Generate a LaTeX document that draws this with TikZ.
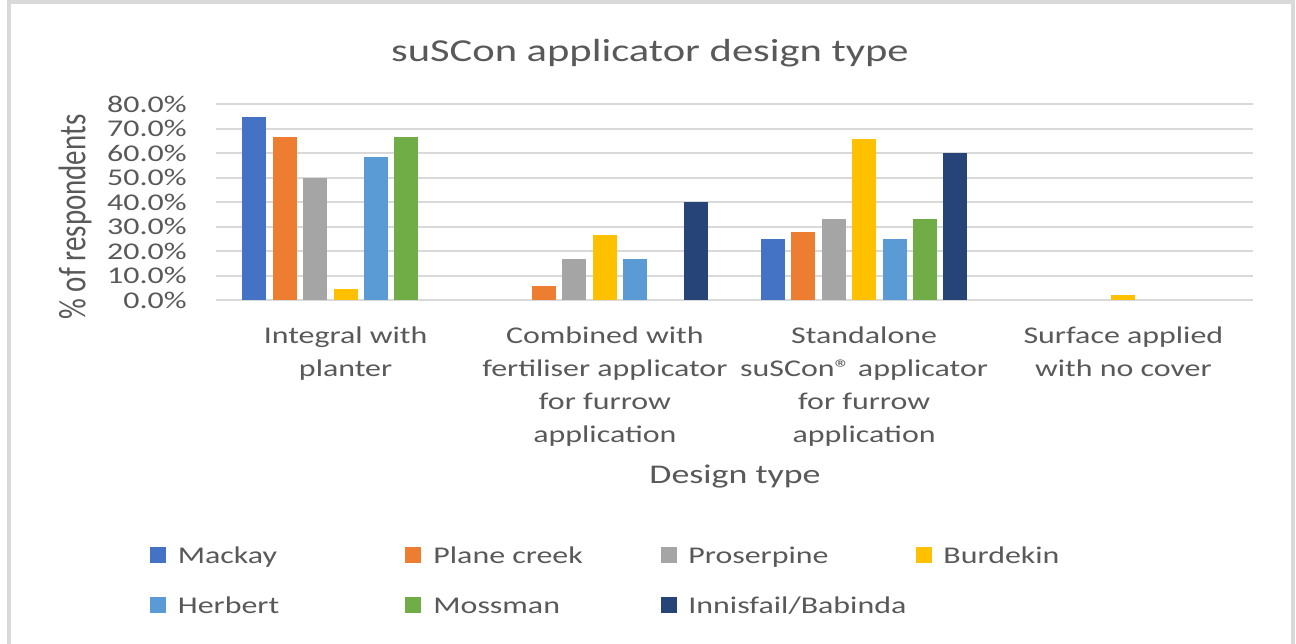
\documentclass[tikz,border=0pt]{standalone}
\usepackage{fontspec}
\setmainfont{Carlito}
\usepackage{graphicx}
\usepackage{xcolor}
\usepackage{tikz}
\usetikzlibrary{positioning}

\definecolor{txt}{HTML}{595959}
\definecolor{gridc}{HTML}{D9D9D9}
\definecolor{mackay}{HTML}{4472C4}
\definecolor{plane}{HTML}{ED7D31}
\definecolor{proser}{HTML}{A5A5A5}
\definecolor{burdek}{HTML}{FFC000}
\definecolor{herbert}{HTML}{5B9BD5}
\definecolor{mossman}{HTML}{70AD47}
\definecolor{innis}{HTML}{264478}

\newcommand{\sx}[1]{\scalebox{1.33}[1]{#1}}
\newcommand{\series}[3]{%
  \foreach \v [count=\i from 0] in {#3}{
    \ifdim\v pt>0pt
      \fill[#2] ({254.4+259.25*\i+30.4*#1-12},300) rectangle ++(24,{-2.4457*\v});
    \fi
  }}

\tikzset{lbl/.style={inner sep=0pt,text=txt,font=\fontsize{12}{16.5}\selectfont},
         gridln/.style={draw=gridc,line width=1pt},
         key/.style={inner sep=0pt,minimum width=8pt,minimum height=8pt}}

\begin{document}
\begin{tikzpicture}[x=0.5pt,y=-0.5pt]
        \useasboundingbox (0,0) rectangle (1296,643);
        \draw[gridc,line width=2pt] (9,650) -- (9,1.5) -- (1292.5,1.5) -- (1292.5,650);

        \node[lbl,font=\fontsize{16}{19}\selectfont,anchor=base] (title) at (650,61) {\sx{suSCon applicator design type}};

        % grid and ticks
        \foreach \k/\t in {0/0.0,1/10.0,2/20.0,3/30.0,4/40.0,5/50.0,6/60.0,7/70.0,8/80.0}{
            \draw[gridln] (216,{300-24.457*\k}) -- (1253,{300-24.457*\k});
            \node[lbl,anchor=east] (tk\k) at (187,{300-24.457*\k}) {\sx{\t\%}};
        }
        \node[lbl,font=\fontsize{14.5}{17}\selectfont,rotate=90] (ytitle) at (75,217) {\scalebox{1}[1.33]{\% of respondents}};

        % bars
        \series{0}{mackay}{75,0,25,0}
        \series{1}{plane}{66.7,5.6,27.8,0}
        \series{2}{proser}{50,16.7,33.3,0}
        \series{3}{burdek}{4.4,26.7,65.8,2.2}
        \series{4}{herbert}{58.3,16.7,25,0}
        \series{5}{mossman}{66.7,0,33.3,0}
        \series{6}{innis}{0,40,60,0}

        % categories
        \node[lbl,anchor=north] (cat1) at (345.6,320) {\sx{\begin{tabular}{@{}c@{}}Integral with\\planter\end{tabular}}};
        \node[lbl,anchor=north] (cat2) at (604.9,320) {\sx{\begin{tabular}{@{}c@{}}Combined with\\fertiliser applicator\\for furrow\\application\end{tabular}}};
        \node[lbl,anchor=north] (cat3) at (864.1,320) {\sx{\begin{tabular}{@{}c@{}}Standalone\\suSCon® applicator\\for furrow\\application\end{tabular}}};
        \node[lbl,anchor=north] (cat4) at (1123.4,320) {\sx{\begin{tabular}{@{}c@{}}Surface applied\\with no cover\end{tabular}}};
        \node[lbl,font=\fontsize{13.5}{16}\selectfont] (xtitle) at (735,477) {\sx{Design type}};

        % legend
        \node[key,fill=mackay] (kmackay) at (158,555) {};
        \node[lbl,anchor=base west] (lmackay) at (177.5,563) {\sx{Mackay}};
        \node[key,fill=plane] (kplane) at (413,555) {};
        \node[lbl,anchor=base west] (lplane) at (433,563) {\sx{Plane creek}};
        \node[key,fill=proser] (kproser) at (669,555) {};
        \node[lbl,anchor=base west] (lproser) at (688,563) {\sx{Proserpine}};
        \node[key,fill=burdek] (kburdek) at (924,555) {};
        \node[lbl,anchor=base west] (lburdek) at (943,563) {\sx{Burdekin}};
        \node[key,fill=herbert] (kherbert) at (158,605) {};
        \node[lbl,anchor=base west] (lherbert) at (177.5,613) {\sx{Herbert}};
        \node[key,fill=mossman] (kmossman) at (413,605) {};
        \node[lbl,anchor=base west] (lmossman) at (433,613) {\sx{Mossman}};
        \node[key,fill=innis] (kinnis) at (669,605) {};
        \node[lbl,anchor=base west] (linnis) at (688,613) {\sx{Innisfail/Babinda}};
    \end{tikzpicture}
\end{document}
